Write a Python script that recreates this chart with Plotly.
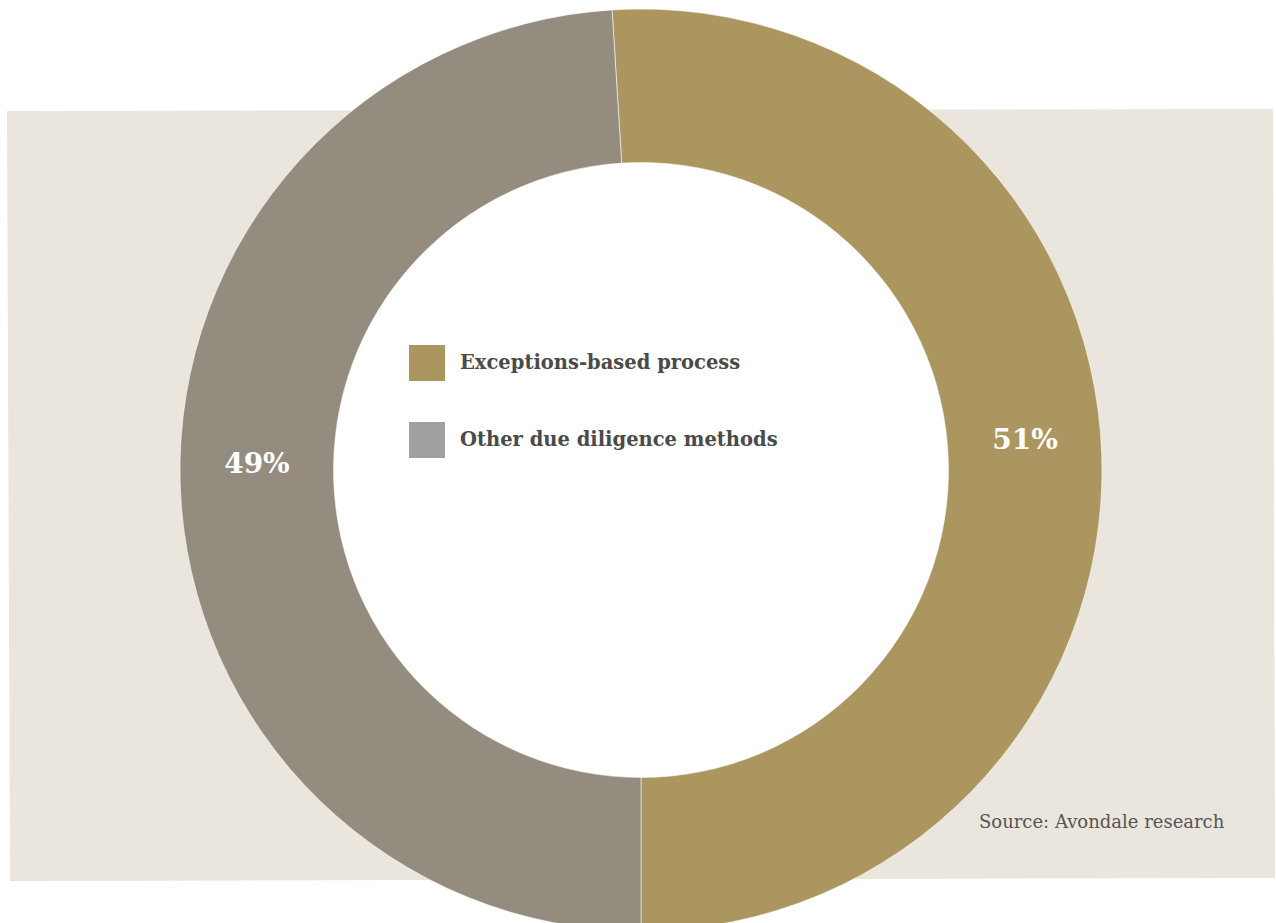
import plotly.graph_objects as go

# ---- data ----
labels = ["Exceptions-based process", "Other due diligence methods"]
values = [51, 49]
source_text = "Source: Avondale research"

# ---- styles ----
slice_colors = ["#AB9660", "#938C7F"]
legend_colors = ["#AB9660", "#A0A0A0"]
W, H = 1276, 940
cx, cy, R, r_in = 641, 470, 461, 307.5

fig = go.Figure()
fig.add_trace(go.Pie(
    labels=labels, values=values, sort=False, direction="clockwise",
    rotation=-values[0] / 100 * 360 + 180,
    hole=r_in / R,
    marker=dict(colors=slice_colors, line=dict(color="rgba(255,255,255,0.55)", width=1)),
    texttemplate="%{percent:.0%}<br> ", textposition="inside",
    insidetextorientation="horizontal",
    textfont=dict(family="DejaVu Serif", size=28, color="white", weight="bold"),
    showlegend=False,
    domain=dict(x=[(cx - R) / W, (cx + R) / W], y=[1 - (cy + R) / H, 1 - (cy - R) / H]),
))

fig.update_layout(
    width=W, height=H, margin=dict(l=0, r=0, t=0, b=0),
    paper_bgcolor="white", plot_bgcolor="rgba(0,0,0,0)",
    xaxis=dict(range=[0, W], visible=False, fixedrange=True),
    yaxis=dict(range=[H, 0], visible=False, fixedrange=True),
)

# background panel and white hole
fig.add_shape(type="path", xref="x", yref="y", layer="below",
              path="M 7 111 L 1273 109 L 1275 878 L 10 881 Z",
              fillcolor="#EAE6DD", line=dict(width=0))
fig.add_shape(type="circle", xref="x", yref="y", layer="below",
              x0=cx - r_in, x1=cx + r_in, y0=cy - r_in, y1=cy + r_in,
              fillcolor="white", line=dict(width=0))

# custom legend inside the hole
for i, (lab, col) in enumerate(zip(labels, legend_colors)):
    y0 = 345 + i * 77
    fig.add_shape(type="rect", xref="x", yref="y", x0=409, x1=445, y0=y0, y1=y0 + 36,
                  fillcolor=col, line=dict(width=0))
    fig.add_annotation(x=458, y=y0 + 17, xref="x", yref="y", text=lab, showarrow=False,
                       xanchor="left", yanchor="middle",
                       font=dict(family="DejaVu Serif", size=19.5, color="#4A4A4A", weight="bold"))

fig.add_annotation(x=977, y=821, xref="x", yref="y", text=source_text, showarrow=False,
                   xanchor="left", yanchor="middle",
                   font=dict(family="DejaVu Serif", size=18, color="#555555"))

fig.add_trace(go.Scatter(x=[0], y=[0], mode="markers", marker=dict(opacity=0), showlegend=False, hoverinfo="skip"))

fig.write_html("out.html", post_script="document.body.style.margin='0';document.body.style.overflow='hidden';")
